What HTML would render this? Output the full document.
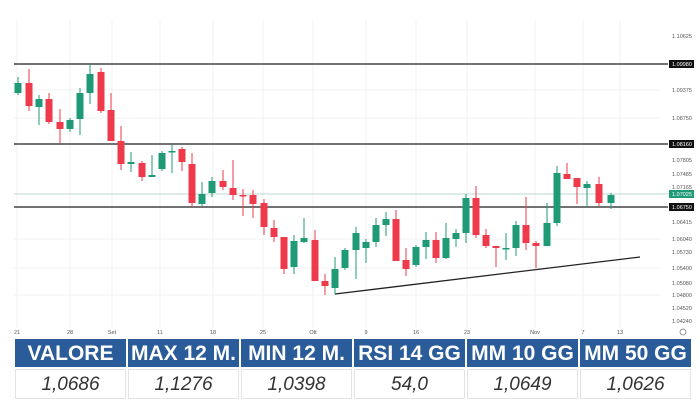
<!DOCTYPE html>
<html><head><meta charset="utf-8"><style>
body{margin:0;width:700px;height:400px;background:#fff;overflow:hidden;font-family:"Liberation Sans",sans-serif}
svg{position:absolute;left:0;top:0}
.tb{position:absolute;left:15px;top:339px;width:676px}
.row{display:flex;gap:2px}
.h div{background:#2b5c9a;color:#fff;font-weight:bold;font-size:21px;height:28px;line-height:29px;text-align:center;flex:1}
.v{margin-top:2px}
.v div{flex:1;height:30px;line-height:30px;text-align:center;font-style:italic;font-size:19px;color:#333;border:1px solid #e3e3e3;box-sizing:border-box}
</style></head><body>
<svg width="700" height="340" viewBox="0 0 700 340">
<g stroke="#f1f1f1" stroke-width="1">
<line x1="17" y1="20" x2="17" y2="328"/><line x1="70" y1="20" x2="70" y2="328"/><line x1="112" y1="20" x2="112" y2="328"/><line x1="160" y1="20" x2="160" y2="328"/><line x1="213" y1="20" x2="213" y2="328"/><line x1="263" y1="20" x2="263" y2="328"/><line x1="313" y1="20" x2="313" y2="328"/><line x1="366" y1="20" x2="366" y2="328"/><line x1="416" y1="20" x2="416" y2="328"/><line x1="467" y1="20" x2="467" y2="328"/><line x1="535" y1="20" x2="535" y2="328"/><line x1="583" y1="20" x2="583" y2="328"/><line x1="620" y1="20" x2="620" y2="328"/>
<line x1="14" y1="90" x2="660" y2="90"/><line x1="14" y1="118" x2="660" y2="118"/><line x1="14" y1="239" x2="660" y2="239"/><line x1="14" y1="268" x2="660" y2="268"/><line x1="14" y1="295" x2="660" y2="295"/>
</g>
<line x1="14" y1="194" x2="668" y2="194" stroke="#bcd9cf" stroke-width="1"/>
<g stroke="#444" stroke-width="1.5"><line x1="14" y1="64" x2="668" y2="64"/><line x1="14" y1="144" x2="668" y2="144"/><line x1="14" y1="207" x2="668" y2="207"/></g>
<line x1="335" y1="294" x2="640" y2="257" stroke="#222" stroke-width="1.3"/>
<g id="c"></g>
<g font-size="5.5" fill="#555" text-anchor="middle">
<text x="682" y="38">1.10625</text><text x="682" y="92">1.09375</text><text x="682" y="120">1.08750</text><text x="682" y="162">1.07805</text><text x="682" y="176">1.07485</text><text x="682" y="189">1.07165</text><text x="682" y="224">1.06415</text><text x="682" y="241">1.06040</text><text x="682" y="254">1.05730</text><text x="682" y="270">1.05400</text><text x="682" y="285">1.05080</text><text x="682" y="297">1.04800</text><text x="682" y="310">1.04520</text><text x="682" y="323">1.04240</text>
<rect x="669" y="60" width="25" height="8" fill="#111"/><text x="682" y="66" fill="#fff">1.09980</text>
<rect x="669" y="140" width="25" height="8" fill="#111"/><text x="682" y="146" fill="#fff">1.08160</text>
<rect x="669" y="190" width="25" height="8" fill="#1f9a77"/><text x="682" y="196" fill="#fff">1.07025</text>
<rect x="669" y="203" width="25" height="8" fill="#111"/><text x="682" y="209" fill="#fff">1.06750</text>
<text x="17" y="334">21</text><text x="70" y="334">28</text><text x="112" y="334">Set</text><text x="160" y="334">11</text><text x="213" y="334">18</text><text x="263" y="334">25</text><text x="313" y="334">Ott</text><text x="366" y="334">9</text><text x="416" y="334">16</text><text x="467" y="334">23</text><text x="535" y="334">Nov</text><text x="583" y="334">7</text><text x="620" y="334">13</text>
</g>
<circle cx="683" cy="332" r="3" fill="none" stroke="#777" stroke-width="0.8"/>
</svg>
<div class="tb">
<div class="row h"><div>VALORE</div><div>MAX 12 M.</div><div>MIN 12 M.</div><div>RSI 14 GG</div><div>MM 10 GG</div><div>MM 50 GG</div></div>
<div class="row v"><div>1,0686</div><div>1,1276</div><div>1,0398</div><div>54,0</div><div>1,0649</div><div>1,0626</div></div>
</div>
<script>
var d=[[18,'g',83,93,77,95],[29,'r',83,106,69,111],[39,'g',99,107,95,125],[49,'r',99,122,93,124],[60,'r',122,129,109,143],[70,'g',120,129,118,132],[80,'g',93,119,88,135],[90,'g',74,93,64,104],[101,'r',72,111,68,113],[111,'r',110,141,93,141],[121,'r',141,164,126,170],[131,'g',162,164,152,172],[142,'r',163,177,161,181],[152,'g',175,177,155,177],[162,'g',153,169,151,171],[172,'g',151,152,145,173],[182,'r',149,162,147,171],[192,'r',164,203,153,207],[202,'g',194,204,182,206],[212,'g',181,193,177,197],[223,'r',181,187,170,190],[233,'r',188,195,160,200],[243,'r',195,196,189,216],[253,'r',195,204,190,218],[264,'r',203,227,199,235],[274,'r',228,237,220,242],[284,'r',237,269,237,274],[294,'g',241,267,235,274],[304,'g',238,242,218,243],[315,'r',240,281,230,281],[325,'r',281,286,274,295],[335,'g',269,288,257,294],[345,'g',250,268,248,270],[356,'g',233,250,227,279],[366,'g',242,248,239,263],[376,'g',225,242,218,247],[386,'g',219,225,212,236],[396,'r',219,261,210,261],[406,'r',260,269,248,276],[416,'g',247,265,245,267],[426,'g',240,247,232,259],[436,'r',240,258,232,263],[446,'g',238,258,223,259],[456,'g',233,239,229,247],[466,'g',198,233,194,243],[476,'r',198,235,186,238],[486,'r',235,246,229,248],[496,'r',246,248,246,267],[506,'g',248,249,233,260],[516,'g',225,248,221,256],[526,'r',225,243,197,250],[536,'r',243,246,241,268],[547,'g',223,246,203,246],[557,'g',173,223,166,226],[567,'r',174,179,163,179],[577,'r',178,187,178,204],[587,'g',184,188,181,207],[599,'r',184,203,177,206],[611,'g',195,203,193,209]];
var s='';d.forEach(function(c){var col=c[1]=='g'?'#1f9a77':'#ee3a4a';var h=Math.max(c[3]-c[2],1.5);
s+='<line x1="'+c[0]+'" x2="'+c[0]+'" y1="'+c[4]+'" y2="'+c[5]+'" stroke="'+col+'" stroke-width="1"/><rect x="'+(c[0]-3.5)+'" y="'+c[2]+'" width="7" height="'+h+'" fill="'+col+'"/>';});
document.getElementById('c').innerHTML=s;
</script>
</body></html>
